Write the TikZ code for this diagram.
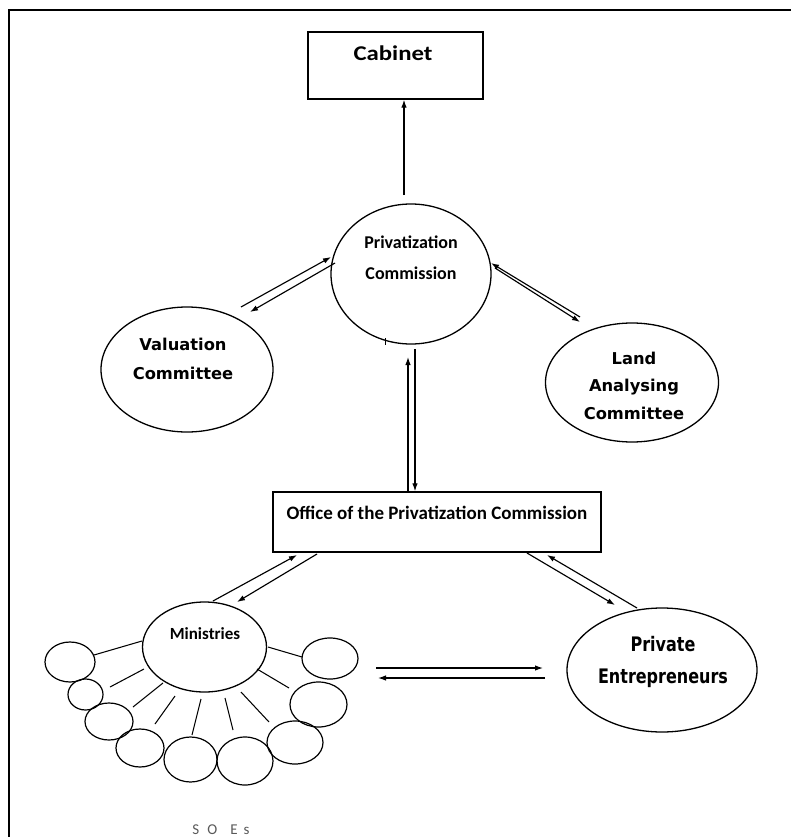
\documentclass[tikz,border=0pt]{standalone}
\usepackage{fontspec}
\usetikzlibrary{shapes.geometric,arrows.meta}
\setmainfont{Carlito}
\newfontfamily\wideserif[FakeStretch=1.18]{Carlito}
\newfontfamily\verd{DejaVu Sans}
\newfontfamily\verdnarrow[FakeStretch=0.8]{DejaVu Sans}

\begin{document}
\begin{tikzpicture}[x=1pt,y=-1pt]
\tikzset{
  framerule/.style={line width=2.4pt, line cap=rect},
  boxnode/.style={draw, rectangle, line width=1.4pt, inner sep=0pt},
  ovalnode/.style={draw, ellipse, line width=1.3pt, inner sep=0pt},
  soe/.style={draw, ellipse, line width=1.2pt, inner sep=0pt},
  arr/.style={line width=1.15pt, -{Latex[length=8pt,width=5.5pt]}},
  spoke/.style={line width=1.05pt},
  calib/.style={font=\bfseries\fontsize{18}{31}\selectfont, align=center, inner sep=0pt},
  verdlab/.style={font=\verd\bfseries\fontsize{16.3}{29}\selectfont, align=center, inner sep=0pt},
}
\useasboundingbox (0,0) rectangle (790,837);
\fill[white] (0,0) rectangle (790,837);

% page frame, open at the right and at the bottom
\coordinate (fTL) at (9,10);
\coordinate (fTR) at (790,10);
\coordinate (fBL) at (9,837);
\draw[framerule] (fTR) -- (fTL) -- (fBL);

% Cabinet
\node[boxnode, minimum width=175pt, minimum height=67pt] (cab) at (395.5,65.5) {};
\node[font=\wideserif\bfseries\fontsize{21}{24}\selectfont, inner sep=0pt] (cabt) at (393,53) {Cabinet};

% Privatization Commission
\node[ovalnode, minimum width=160pt, minimum height=140pt] (pc) at (411,274) {};
\node[calib] (pct) at (411,258) {Privatization\\Commission};
\coordinate (pctick1) at (385,338);
\coordinate (pctick2) at (385,345);
\draw[line width=0.6pt] (pctick1) -- (pctick2);

% Valuation Committee
\node[ovalnode, minimum width=172pt, minimum height=125pt] (val) at (187,369.5) {};
\node[verdlab] (valt) at (183,358.5) {Valuation\\Committee};

% Land Analysing Committee
\node[ovalnode, minimum width=173pt, minimum height=119pt] (land) at (632,382.5) {};
\node[verdlab, font=\verd\bfseries\fontsize{16.3}{27.5}\selectfont] (landt) at (634,385.5) {Land\\Analysing\\Committee};

% Office of the Privatization Commission
\node[boxnode, minimum width=328pt, minimum height=60pt] (off) at (437,522) {};
\node[font=\bfseries\fontsize{19}{22}\selectfont, inner sep=0pt] (offt) at (437,513) {Office of the Privatization Commission};

% Ministries
\node[ovalnode, minimum width=124pt, minimum height=90pt] (min) at (204.5,647) {};
\node[font=\bfseries\fontsize{17}{20}\selectfont, inner sep=0pt] (mint) at (205,634) {Ministries};

% Private Entrepreneurs
\node[ovalnode, minimum width=190pt, minimum height=124pt] (priv) at (662,670) {};
\node[font=\verdnarrow\bfseries\fontsize{20}{32}\selectfont, align=center, inner sep=0pt] (privt) at (663,662) {Private\\Entrepreneurs};

% SOEs around the Ministries
\node[soe, minimum width=50pt, minimum height=40pt] (s1) at (70,662) {};
\node[soe, minimum width=35pt, minimum height=31pt] (s2) at (85.5,694.5) {};
\node[soe, minimum width=48pt, minimum height=37pt] (s3) at (109,721.5) {};
\node[soe, minimum width=48pt, minimum height=38pt] (s4) at (140,748) {};
\node[soe, minimum width=53pt, minimum height=45pt] (s5) at (190.5,759.5) {};
\node[soe, minimum width=56pt, minimum height=48pt] (s6) at (245,761) {};
\node[soe, minimum width=56pt, minimum height=43pt] (s7) at (295,742.5) {};
\node[soe, minimum width=57pt, minimum height=45pt] (s8) at (318.5,704.5) {};
\node[soe, minimum width=56pt, minimum height=41pt] (s9) at (330,658.5) {};

% spokes between the Ministries and the SOEs
\draw[spoke] (s1) -- (142,641);
\draw[spoke] (110,687) -- (144,669);
\draw[spoke] (133,707) -- (163,683);
\draw[spoke] (155,724) -- (175,696);
\draw[spoke] (192,735) -- (201,699);
\draw[spoke] (233,730) -- (225,698);
\draw[spoke] (269,722) -- (241,692);
\draw[spoke] (289,688) -- (257,669);
\draw[spoke] (302,657) -- (268,647);

\node[font=\fontsize{15}{18}\selectfont, text=black!65, inner sep=0pt] (soet) at (221,830) {S\hspace{8pt}O\hspace{13pt}E\hspace{6pt}s};

% Commission up to the Cabinet
\coordinate (pcup) at (404,195);
\draw[arr] (pcup) -- (pcup |- cab.south);

% Valuation Committee <-> Commission
\coordinate (va1) at (241,307);
\coordinate (va2) at (331,257);
\coordinate (va3) at (335,263);
\coordinate (va4) at (250,312);
\draw[arr] (va1) -- (va2);
\draw[arr] (va3) -- (va4);

% Land Analysing Committee <-> Commission
\coordinate (la1) at (580,317);
\coordinate (la2) at (491,263);
\coordinate (la3) at (495,268);
\coordinate (la4) at (580,322);
\draw[arr] (la1) -- (la2);
\draw[arr] (la3) -- (la4);

% Office <-> Commission
\coordinate (oc1) at (408,492);
\coordinate (oc2) at (408,357);
\coordinate (oc3) at (415,349);
\draw[arr] (oc1) -- (oc2);
\draw[arr] (oc3) -- (oc3 |- off.north);

% Office <-> Ministries
\coordinate (om1) at (213,601);
\coordinate (om2) at (297,555);
\coordinate (om3) at (317,554);
\coordinate (om4) at (237,602);
\draw[arr] (om1) -- (om2);
\draw[arr] (om3) -- (om4);

% Office <-> Private Entrepreneurs
\coordinate (op1) at (527,553);
\coordinate (op2) at (615,605);
\coordinate (op3) at (637,608);
\coordinate (op4) at (547,555);
\draw[arr] (op1) -- (op2);
\draw[arr] (op3) -- (op4);

% Ministries <-> Private Entrepreneurs
\coordinate (mp1) at (376,668);
\coordinate (mp2) at (543,668);
\coordinate (mp3) at (545,678);
\coordinate (mp4) at (378,678);
\draw[arr] (mp1) -- (mp2);
\draw[arr] (mp3) -- (mp4);
\end{tikzpicture}
\end{document}
